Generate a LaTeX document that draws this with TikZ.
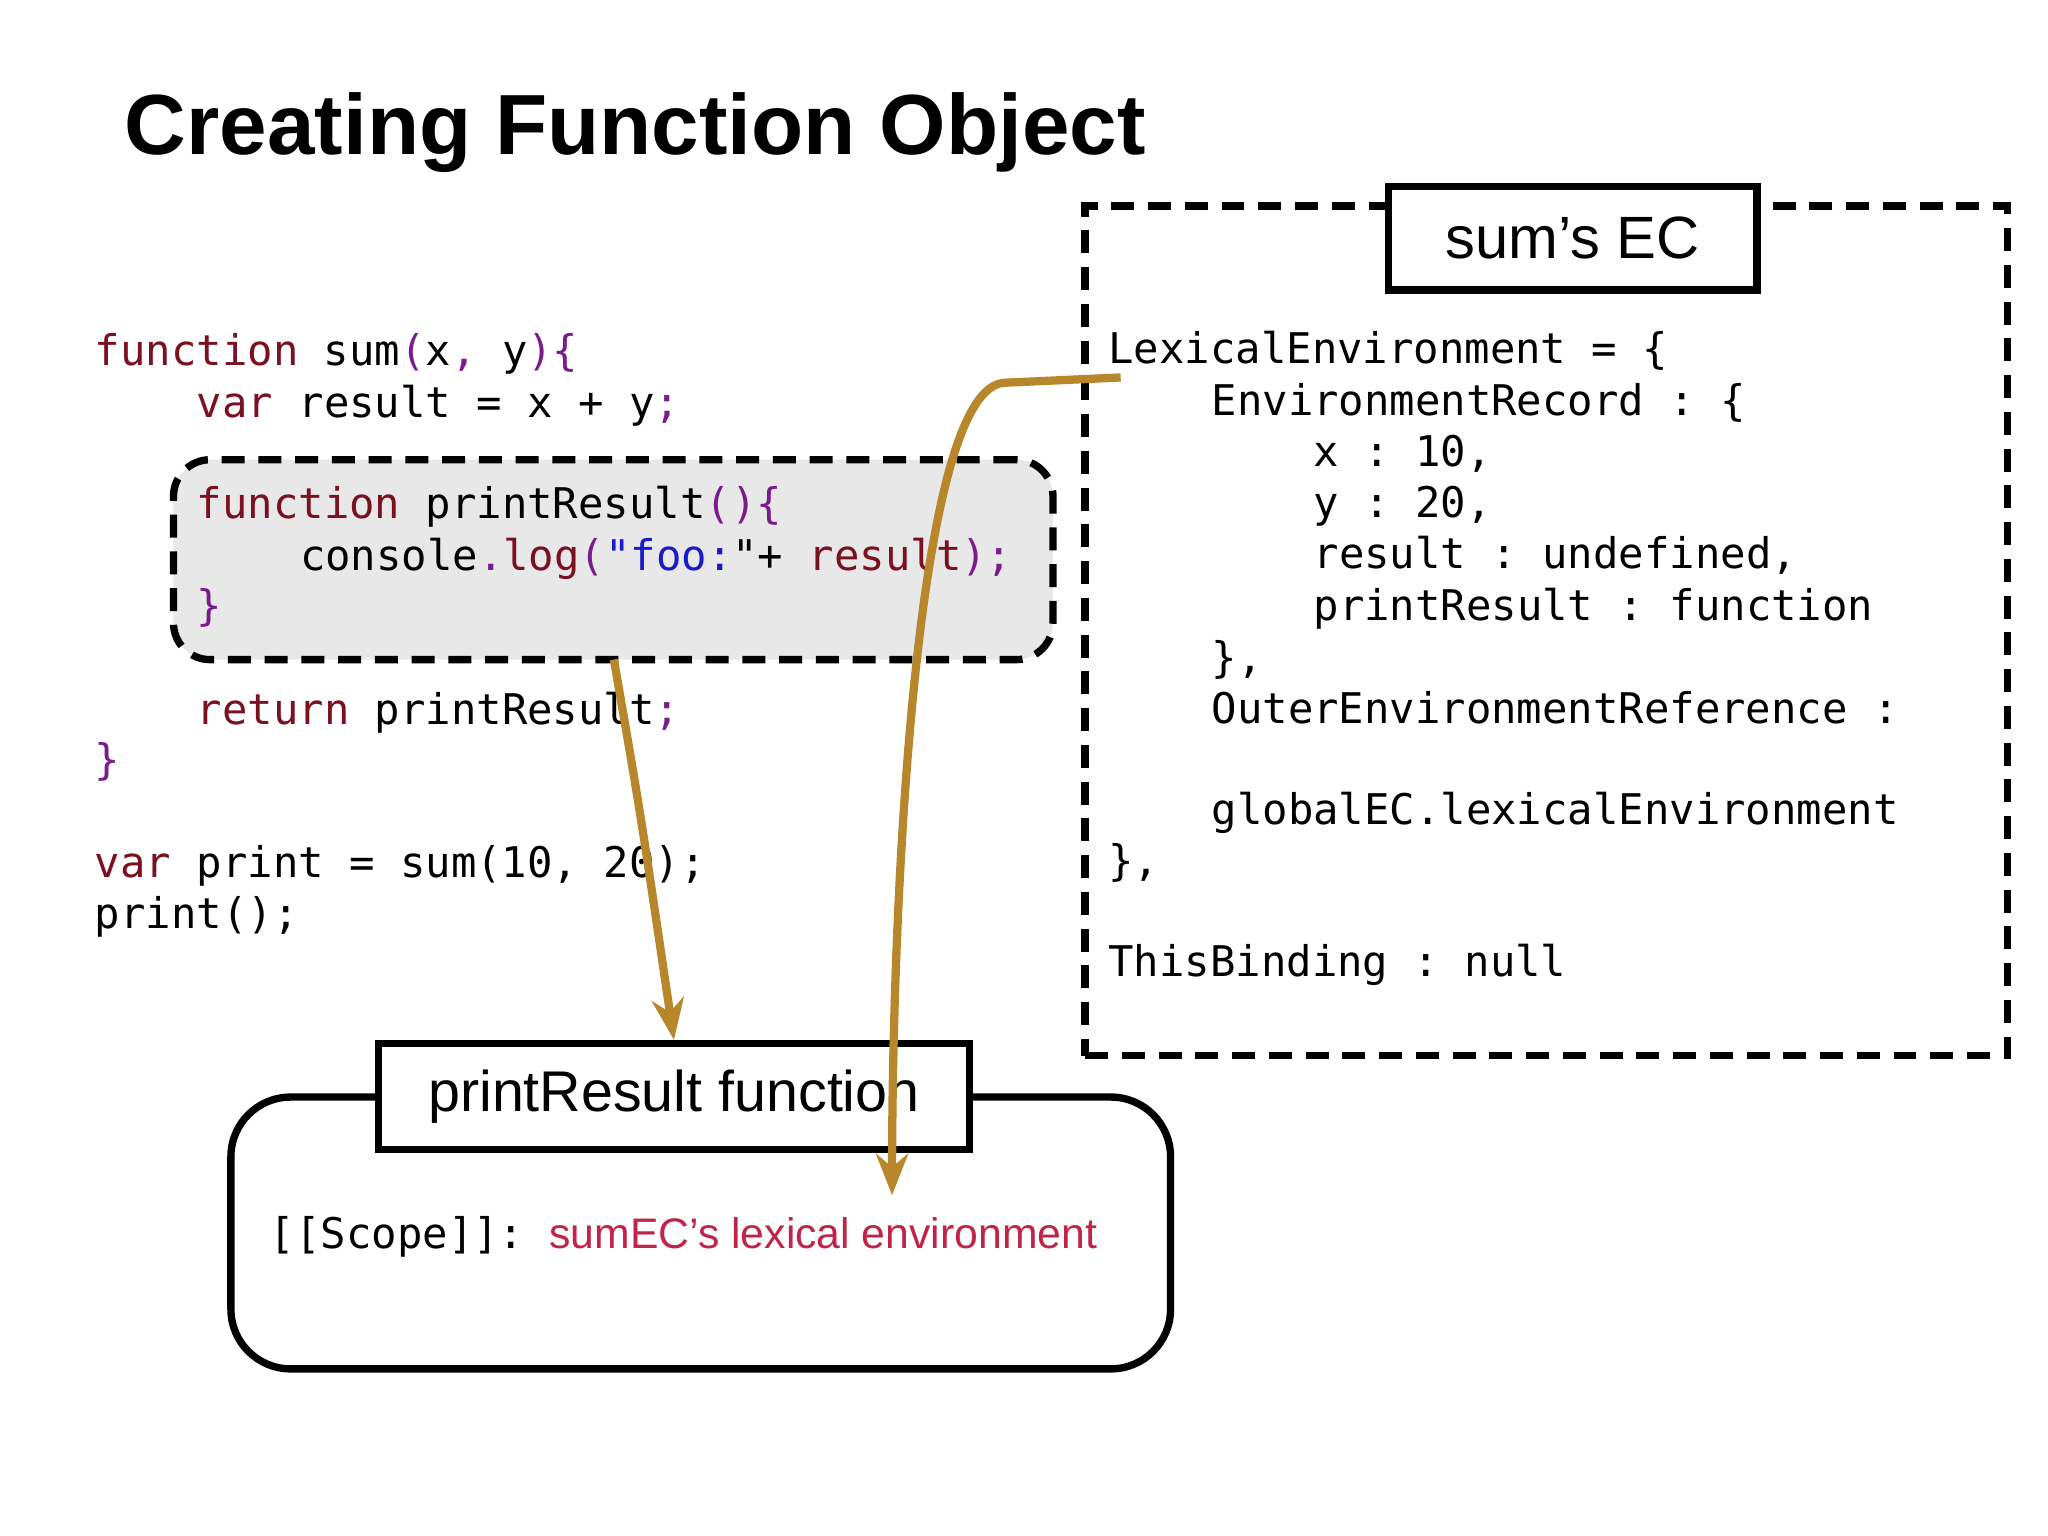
\documentclass[tikz,border=0pt]{standalone}
\usepackage{fontspec}
\setmainfont{Liberation Sans}
\setmonofont{DejaVu Sans Mono}
\usetikzlibrary{arrows.meta}
\definecolor{kwred}{HTML}{7A1020}
\definecolor{pnpurple}{HTML}{7A1C8C}
\definecolor{strblue}{HTML}{1A1AC8}
\definecolor{arrowgold}{HTML}{B8862B}
\definecolor{scopered}{HTML}{C0244A}
\newcommand{\kw}[1]{\textcolor{kwred}{#1}}
\newcommand{\pn}[1]{\textcolor{pnpurple}{#1}}
\begin{document}
\begin{tikzpicture}[
    x=0.01cm, y=-0.01cm,
    code/.style={anchor=base west, inner sep=0pt, font=\fontsize{9.2pt}{11pt}\ttfamily},
    label box/.style={draw=black, line width=1.6pt, fill=white, inner sep=0pt, font=\fontsize{12.5pt}{15pt}\selectfont},
    dashed box/.style={draw=black, line width=1.6pt, dash pattern=on 5pt off 3pt, inner sep=0pt},
    arrow/.style={-{Stealth[length=9pt,width=7pt]}, arrowgold, line width=1.8pt}
]
    \useasboundingbox (0,0) rectangle (1568,1176);
    \node[anchor=base west, inner sep=0pt, font=\fontsize{18.6pt}{20pt}\bfseries] (title) at (95,118) {Creating Function Object};

    % code on the left
    \node[dashed box, fill=gray!18, rounded corners=8pt, minimum width=6.73cm, minimum height=1.53cm] (inner) at (469.5,428.5) {};
    \node[code] (l1) at (72,280) {\kw{function} sum\pn{(}x\pn{,} y\pn{)\{}};
    \node[code] (l2) at (150,320) {\kw{var} result = x + y\pn{;}};
    \node[code] (l3) at (150,397) {\kw{function} printResult\pn{()\{}};
    \node[code] (l4) at (229,437) {console\pn{.}\kw{log}\pn{(}\textcolor{strblue}{"foo:}"+ \kw{result}\pn{);}};
    \node[code] (l5) at (150,475) {\pn{\}}};
    \node[code] (l6) at (150,555) {\kw{return} printResult\pn{;}};
    \node[code] (l7) at (72,593) {\pn{\}}};
    \node[code] (l8) at (72,672) {\kw{var} print = sum(10, 20);};
    \node[code] (l9) at (72,711) {print();};

    % sum's EC
    \node[dashed box, minimum width=7.06cm, minimum height=6.5cm] (ec) at (1184,483) {};
    \node[label box, minimum width=2.82cm, minimum height=0.79cm, font=\fontsize{13pt}{15pt}\selectfont] (ectitle) at (1204,182.5) {sum’s EC};
    \node[code] (r1) at (848,278) {LexicalEnvironment = \{};
    \node[code] (r2) at (927,318) {EnvironmentRecord : \{};
    \node[code] (r3) at (1005,357) {x : 10,};
    \node[code] (r4) at (1005,396) {y : 20,};
    \node[code] (r5) at (1005,435) {result : undefined,};
    \node[code] (r6) at (1005,475) {printResult : function};
    \node[code] (r7) at (927,515) {\},};
    \node[code] (r8) at (927,554) {OuterEnvironmentReference :};
    \node[code] (r9) at (927,631) {globalEC.lexicalEnvironment};
    \node[code] (r10) at (848,670) {\},};
    \node[code] (r11) at (848,748) {ThisBinding : null};

    % function object
    \node[draw=black, line width=1.6pt, rounded corners=13pt, minimum width=7.19cm, minimum height=2.08cm] (fobj) at (536.5,944) {};
    \node[label box, minimum width=4.52cm, minimum height=0.81cm] (fname) at (516,839.5) {printResult function};
    \node[code] (scope) at (206,956) {[[Scope]]:};
    \node[anchor=base west, inner sep=0pt, text=scopered, font=\fontsize{9.3pt}{12pt}\selectfont] (scopeval) at (420,956) {sumEC’s lexical environment};

    \coordinate (fromcode) at (470,505);
    \coordinate (fromle) at (858,289);
    \coordinate (toscope) at (683,915);
    \draw[arrow] (fromcode) .. controls (490,620) .. (fname.north);
    \draw[arrow] (fromle) -- (770,293) .. controls (700,293) and (683,700) .. (toscope);
\end{tikzpicture}
\end{document}
